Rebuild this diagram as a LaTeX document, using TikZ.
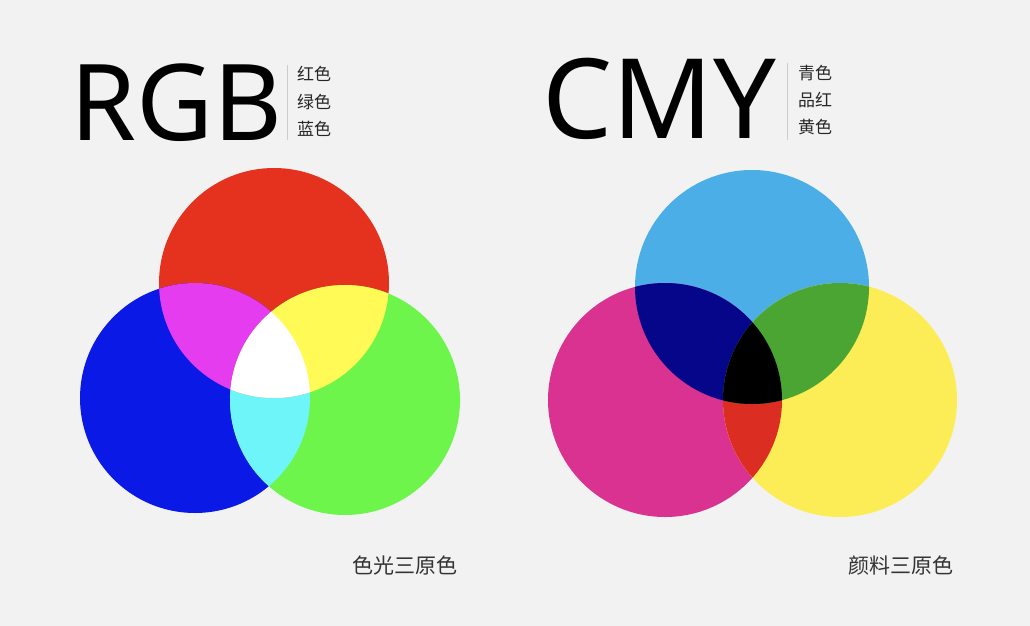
\documentclass[tikz,border=0pt]{standalone}
\usepackage{fontspec}
\setmainfont{Noto Sans}
\newfontfamily\cjk{Noto Sans CJK SC}
\usetikzlibrary{positioning}

\definecolor{bgcol}{HTML}{F2F2F2}
% additive colours
\definecolor{lred}{HTML}{E5321F}
\definecolor{lgreen}{HTML}{6EF54B}
\definecolor{lblue}{HTML}{0A19E6}
\definecolor{lmagenta}{HTML}{E53CF0}
\definecolor{lyellow}{HTML}{FFFA55}
\definecolor{lcyan}{HTML}{6EF5FA}
% subtractive colours
\definecolor{pcyan}{HTML}{4BAEE6}
\definecolor{pmagenta}{HTML}{D93291}
\definecolor{pyellow}{HTML}{FCEC55}
\definecolor{pnavy}{HTML}{06068A}
\definecolor{pgreen}{HTML}{4BA532}
\definecolor{pred}{HTML}{DC2D23}

\begin{document}
\begin{tikzpicture}[
  x=1pt, y=-1pt,
  title/.style={inner sep=0pt, font=\fontsize{#1}{#1}\selectfont, anchor=base west},
  tag/.style={inner sep=0pt, font=\cjk\fontsize{17}{17}\selectfont, anchor=base west, text=black!85},
  caption/.style={inner sep=0pt, font=\cjk\fontsize{21}{21}\selectfont, anchor=base west, text=black!80},
  sep/.style={draw=black!20, line width=0.8pt}
]
\useasboundingbox[fill=bgcol] (0,0) rectangle (1030,626);

% circle centres
\coordinate (rc) at (274,283);
\coordinate (bc) at (195,398);
\coordinate (gc) at (345,400);
\coordinate (cc) at (752,287);
\coordinate (mc) at (665,400);
\coordinate (yc) at (840,400);

% RGB
\fill[lred] (rc) circle (115);
\fill[lblue] (bc) circle (115);
\fill[lgreen] (gc) circle (115);
\begin{scope}
  \clip (bc) circle (115);
  \fill[lcyan] (gc) circle (115);
\end{scope}
\begin{scope}
  \clip (rc) circle (115);
  \fill[lmagenta] (bc) circle (115);
  \fill[lyellow] (gc) circle (115);
  \clip (bc) circle (115);
  \fill[white] (gc) circle (115);
\end{scope}

% CMY
\fill[pcyan] (cc) circle (117);
\fill[pmagenta] (mc) circle (117);
\fill[pyellow] (yc) circle (117);
\begin{scope}
  \clip (mc) circle (117);
  \fill[pred] (yc) circle (117);
\end{scope}
\begin{scope}
  \clip (cc) circle (117);
  \fill[pnavy] (mc) circle (117);
  \fill[pgreen] (yc) circle (117);
  \clip (mc) circle (117);
  \fill[black] (yc) circle (117);
\end{scope}

% titles
\node[title=106] (rgb) at (70,140) {RGB};
\coordinate (rgbtop) at (287,65);
\coordinate (rgbbot) at (287,140);
\draw[sep] (rgbtop) -- (rgbbot);
\node[tag] (red) at (297,81) {红色};
\node[tag] (green) at (297,108) {绿色};
\node[tag] (blue) at (297,135) {蓝色};

\node[title=111] (cmy) at (542,138) {CMY};
\coordinate (cmytop) at (787,63);
\coordinate (cmybot) at (787,140);
\draw[sep] (cmytop) -- (cmybot);
\node[tag] (cyan) at (798,79) {青色};
\node[tag] (magenta) at (798,106) {品红};
\node[tag] (yellow) at (798,133) {黄色};

% captions
\node[caption] (light) at (352,573) {色光三原色};
\node[caption] (pigment) at (848,573) {颜料三原色};
\end{tikzpicture}
\end{document}
